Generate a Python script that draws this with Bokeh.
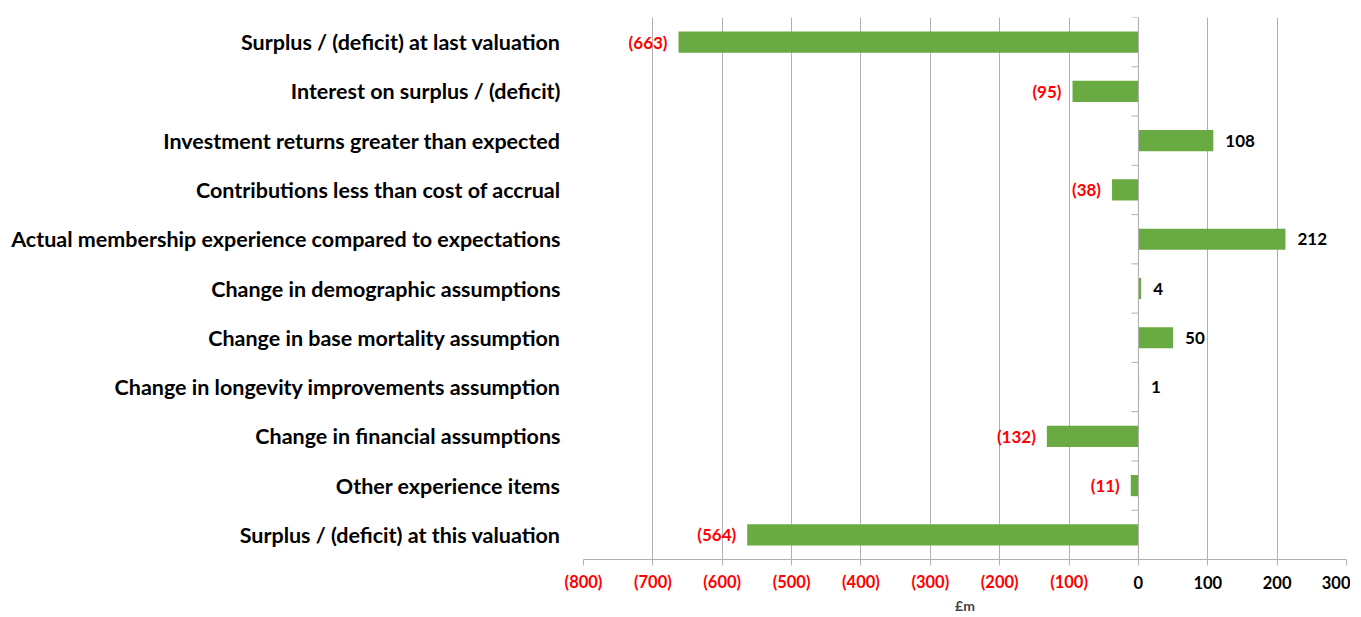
from bokeh.plotting import figure
from bokeh.models import (ColumnDataSource, Range1d, FixedTicker, LabelSet, Span, LinearAxis)
from bokeh.core.properties import value
from bokeh.embed import file_html
from bokeh.resources import INLINE

categories = [
    "Surplus / (deficit) at last valuation",
    "Interest on surplus / (deficit)",
    "Investment returns greater than expected",
    "Contributions less than cost of accrual",
    "Actual membership experience compared to expectations",
    "Change in demographic assumptions",
    "Change in base mortality assumption",
    "Change in longevity improvements assumption",
    "Change in financial assumptions",
    "Other experience items",
    "Surplus / (deficit) at this valuation",
]
values = [-663, -95, 108, -38, 212, 4, 50, 1, -132, -11, -564]
x_ticks = [-800, -700, -600, -500, -400, -300, -200, -100, 0, 100, 200, 300]
x_title = "£m"

FONT = "Lato"
RED = "#ff0000"
GREY = "#b0b0b0"
n = len(categories)
ypos = [n - 1 - i for i in range(n)]

def fmt(v):
    return f"({abs(v)})" if v < 0 else f"{v}"

p = figure(width=1350, height=616, output_backend="svg", toolbar_location=None,
           x_range=Range1d(x_ticks[0], x_ticks[-1]), y_range=Range1d(-0.5, n - 0.5),
           min_border_left=583, min_border_right=4, min_border_top=17, min_border_bottom=0)
p.outline_line_color = None

src = ColumnDataSource(dict(y=ypos, v=values))
p.hbar(y="y", left=0, right="v", height=0.43, source=src,
       fill_color="#69aa42", line_color=None)

# category axis (labels only)
p.yaxis.ticker = FixedTicker(ticks=ypos)
p.yaxis.major_label_overrides = {y: c for y, c in zip(ypos, categories)}
p.yaxis.axis_line_color = None
p.yaxis.major_tick_line_color = None
p.yaxis.minor_tick_line_color = None
p.yaxis.major_label_standoff = 17
p.yaxis.major_label_text_font = FONT
p.yaxis.major_label_text_font_style = "bold"
p.yaxis.major_label_text_font_size = "21.5px"
p.yaxis.major_label_text_color = "black"
p.ygrid.grid_line_color = None

# value axis: line, ticks and black (non-negative) labels
neg_ticks = [t for t in x_ticks if t < 0]
ax1 = p.xaxis[0]
ax1.ticker = FixedTicker(ticks=x_ticks)
ax1.major_label_overrides = {t: ("" if t < 0 else fmt(t)) for t in x_ticks}
ax1.axis_line_color = GREY
ax1.major_tick_line_color = GREY
ax1.major_tick_out = 6
ax1.major_tick_in = 0
ax1.minor_tick_line_color = None
ax1.major_label_standoff = 10
ax1.major_label_text_font = FONT
ax1.major_label_text_font_style = "bold"
ax1.major_label_text_font_size = "16.5px"
ax1.major_label_text_color = "black"

# second axis carrying the red (negative) labels on the same row
ax2 = LinearAxis(ticker=FixedTicker(ticks=neg_ticks),
                 major_label_overrides={t: fmt(t) for t in neg_ticks})
ax2.axis_line_color = None
ax2.major_tick_line_color = None
ax2.minor_tick_line_color = None
ax2.major_tick_out = 0
ax2.major_tick_in = 0
ax2.major_label_standoff = -20
ax2.major_label_text_font = FONT
ax2.major_label_text_font_style = "bold"
ax2.major_label_text_font_size = "16.5px"
ax2.major_label_text_color = RED
ax2.axis_label = x_title
ax2.axis_label_text_font = FONT
ax2.axis_label_text_font_style = "bold"
ax2.axis_label_text_font_size = "14px"
ax2.axis_label_standoff = 2
p.add_layout(ax2, "below")

p.xgrid.ticker = FixedTicker(ticks=x_ticks)
p.xgrid.grid_line_color = GREY
p.xgrid.grid_line_width = 1

# vertical axis line at zero with category boundary ticks
p.add_layout(Span(location=0, dimension="height", line_color=GREY, line_width=1))
bounds = [i - 0.5 for i in range(n + 1)]
bsrc = ColumnDataSource(dict(y=bounds, xa=[0] * len(bounds), xb=[-10] * len(bounds)))
p.segment(x0="xa", y0="y", x1="xb", y1="y", source=bsrc, line_color=GREY, line_width=1)

# data labels
nsrc = ColumnDataSource(dict(x=[v for v in values if v < 0],
                             y=[y for y, v in zip(ypos, values) if v < 0],
                             t=[fmt(v) for v in values if v < 0]))
psrc = ColumnDataSource(dict(x=[v for v in values if v >= 0],
                             y=[y for y, v in zip(ypos, values) if v >= 0],
                             t=[fmt(v) for v in values if v >= 0]))
p.add_layout(LabelSet(x="x", y="y", text="t", source=nsrc, text_align="right",
                      text_baseline="middle", x_offset=-11, text_color=RED,
                      text_font=value(FONT), text_font_style="bold", text_font_size="17px"))
p.add_layout(LabelSet(x="x", y="y", text="t", source=psrc, text_align="left",
                      text_baseline="middle", x_offset=12, text_color="black",
                      text_font=value(FONT), text_font_style="bold", text_font_size="17px"))

open("out.html", "w").write(file_html(p, INLINE))
